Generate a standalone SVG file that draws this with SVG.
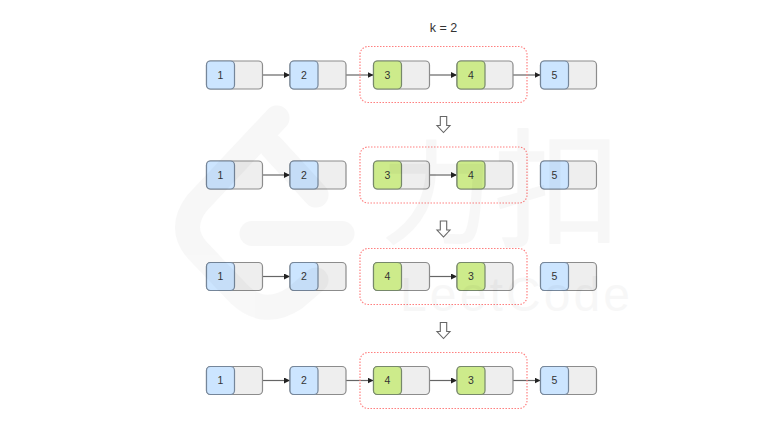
<svg xmlns="http://www.w3.org/2000/svg" width="780" height="426" viewBox="0 0 780 426">
<style>
text{font-family:"Liberation Sans",Arial,sans-serif;fill:#333;text-anchor:middle}
.n{font-size:10.500px}
.box{fill:#eeeeee;stroke:#8c8c8c;stroke-width:1.200}
.bl{fill:#cce5ff;stroke:#75869a;stroke-width:1.200}
.gr{fill:#cdeb8b;stroke:#76886a;stroke-width:1.200}
.c{fill:none;stroke:#666;stroke-width:1.200;marker-end:url(#a)}
.g{fill:none;stroke:#ff8080;stroke-width:1.200;stroke-dasharray:1.500 1.500}
.d{fill:#fff;stroke:#666;stroke-width:1.100}
.w{fill:none;stroke:#000;stroke-width:25;stroke-linecap:round;stroke-linejoin:round}
#watermark{opacity:.028}
#watermark text{fill:#000;stroke:#000;stroke-linejoin:round}
#watermark .cjk{font-family:"Noto Sans CJK SC",sans-serif;stroke-width:1.500px}
#watermark .latin{font-size:48px;stroke-width:0}
</style>
<defs>
<marker id="a" markerWidth="7" markerHeight="7" refX="6" refY="3" orient="auto" markerUnits="userSpaceOnUse"><path d="M0 0L6 3L0 6z" fill="#222"/></marker>
</defs>
<rect width="780" height="426" fill="#fff"/>
<g id="connectors">
<path class="c" d="M262.500 75H290"/><path class="c" d="M346 75H373.500"/><path class="c" d="M429.500 75H457"/><path class="c" d="M513 75H540.500"/>
<path class="c" d="M262.500 175H290"/><path class="c" d="M429.500 175H457"/>
<path class="c" d="M262.500 276.500H290"/><path class="c" d="M429.500 276.500H457"/>
<path class="c" d="M262.500 380.500H290"/><path class="c" d="M346 380.500H373.500"/><path class="c" d="M429.500 380.500H457"/><path class="c" d="M513 380.500H540.500"/>
</g>
<g id="groups">
<rect class="g" x="360" y="46.500" width="167" height="56" rx="8"/>
<rect class="g" x="360" y="147" width="167" height="56" rx="8"/>
<rect class="g" x="360" y="248.500" width="167" height="56" rx="8"/>
<rect class="g" x="360" y="352.500" width="167" height="56" rx="8"/>
</g>
<text id="title" x="443.500" y="32" style="font-size:12.500px">k = 2</text>
<g id="r1n1"><rect class="box" x="206.500" y="61" width="56" height="28" rx="4"/><rect class="bl" x="206.500" y="61" width="28" height="28" rx="4"/><text class="n" x="220.500" y="78.800">1</text></g>
<g id="r1n2"><rect class="box" x="290" y="61" width="56" height="28" rx="4"/><rect class="bl" x="290" y="61" width="28" height="28" rx="4"/><text class="n" x="304" y="78.800">2</text></g>
<g id="r1n3"><rect class="box" x="373.500" y="61" width="56" height="28" rx="4"/><rect class="gr" x="373.500" y="61" width="28" height="28" rx="4"/><text class="n" x="387.500" y="78.800">3</text></g>
<g id="r1n4"><rect class="box" x="457" y="61" width="56" height="28" rx="4"/><rect class="gr" x="457" y="61" width="28" height="28" rx="4"/><text class="n" x="471" y="78.800">4</text></g>
<g id="r1n5"><rect class="box" x="540.500" y="61" width="56" height="28" rx="4"/><rect class="bl" x="540.500" y="61" width="28" height="28" rx="4"/><text class="n" x="554.500" y="78.800">5</text></g>
<g id="r2n1"><rect class="box" x="206.500" y="161" width="56" height="28" rx="4"/><rect class="bl" x="206.500" y="161" width="28" height="28" rx="4"/><text class="n" x="220.500" y="178.800">1</text></g>
<g id="r2n2"><rect class="box" x="290" y="161" width="56" height="28" rx="4"/><rect class="bl" x="290" y="161" width="28" height="28" rx="4"/><text class="n" x="304" y="178.800">2</text></g>
<g id="r2n3"><rect class="box" x="373.500" y="161" width="56" height="28" rx="4"/><rect class="gr" x="373.500" y="161" width="28" height="28" rx="4"/><text class="n" x="387.500" y="178.800">3</text></g>
<g id="r2n4"><rect class="box" x="457" y="161" width="56" height="28" rx="4"/><rect class="gr" x="457" y="161" width="28" height="28" rx="4"/><text class="n" x="471" y="178.800">4</text></g>
<g id="r2n5"><rect class="box" x="540.500" y="161" width="56" height="28" rx="4"/><rect class="bl" x="540.500" y="161" width="28" height="28" rx="4"/><text class="n" x="554.500" y="178.800">5</text></g>
<g id="r3n1"><rect class="box" x="206.500" y="262.500" width="56" height="28" rx="4"/><rect class="bl" x="206.500" y="262.500" width="28" height="28" rx="4"/><text class="n" x="220.500" y="280.300">1</text></g>
<g id="r3n2"><rect class="box" x="290" y="262.500" width="56" height="28" rx="4"/><rect class="bl" x="290" y="262.500" width="28" height="28" rx="4"/><text class="n" x="304" y="280.300">2</text></g>
<g id="r3n3"><rect class="box" x="373.500" y="262.500" width="56" height="28" rx="4"/><rect class="gr" x="373.500" y="262.500" width="28" height="28" rx="4"/><text class="n" x="387.500" y="280.300">4</text></g>
<g id="r3n4"><rect class="box" x="457" y="262.500" width="56" height="28" rx="4"/><rect class="gr" x="457" y="262.500" width="28" height="28" rx="4"/><text class="n" x="471" y="280.300">3</text></g>
<g id="r3n5"><rect class="box" x="540.500" y="262.500" width="56" height="28" rx="4"/><rect class="bl" x="540.500" y="262.500" width="28" height="28" rx="4"/><text class="n" x="554.500" y="280.300">5</text></g>
<g id="r4n1"><rect class="box" x="206.500" y="366.500" width="56" height="28" rx="4"/><rect class="bl" x="206.500" y="366.500" width="28" height="28" rx="4"/><text class="n" x="220.500" y="384.300">1</text></g>
<g id="r4n2"><rect class="box" x="290" y="366.500" width="56" height="28" rx="4"/><rect class="bl" x="290" y="366.500" width="28" height="28" rx="4"/><text class="n" x="304" y="384.300">2</text></g>
<g id="r4n3"><rect class="box" x="373.500" y="366.500" width="56" height="28" rx="4"/><rect class="gr" x="373.500" y="366.500" width="28" height="28" rx="4"/><text class="n" x="387.500" y="384.300">4</text></g>
<g id="r4n4"><rect class="box" x="457" y="366.500" width="56" height="28" rx="4"/><rect class="gr" x="457" y="366.500" width="28" height="28" rx="4"/><text class="n" x="471" y="384.300">3</text></g>
<g id="r4n5"><rect class="box" x="540.500" y="366.500" width="56" height="28" rx="4"/><rect class="bl" x="540.500" y="366.500" width="28" height="28" rx="4"/><text class="n" x="554.500" y="384.300">5</text></g>
<g id="arrows">
<path class="d" d="M440.300 116.500H446.700V125.500H450L443.500 132.500L437 125.500H440.300Z"/>
<path class="d" d="M440.300 221H446.700V230H450L443.500 237L437 230H440.300Z"/>
<path class="d" d="M440.300 322.500H446.700V331.500H450L443.500 338.500L437 331.500H440.300Z"/>
</g>
<g id="watermark">
<path class="w" d="M277 118L197 203Q178 228 197 250L240 295Q265 318 295 298L316 280"/>
<path class="w" d="M272 147L316 195"/>
<path class="w" d="M252 233.500H342"/>
<text class="cjk" x="437" y="235" font-size="112">力</text>
<text class="cjk" x="558" y="237" font-size="128">扣</text>
<text class="latin" x="515" y="311" textLength="230">LeetCode</text>
</g>
</svg>
